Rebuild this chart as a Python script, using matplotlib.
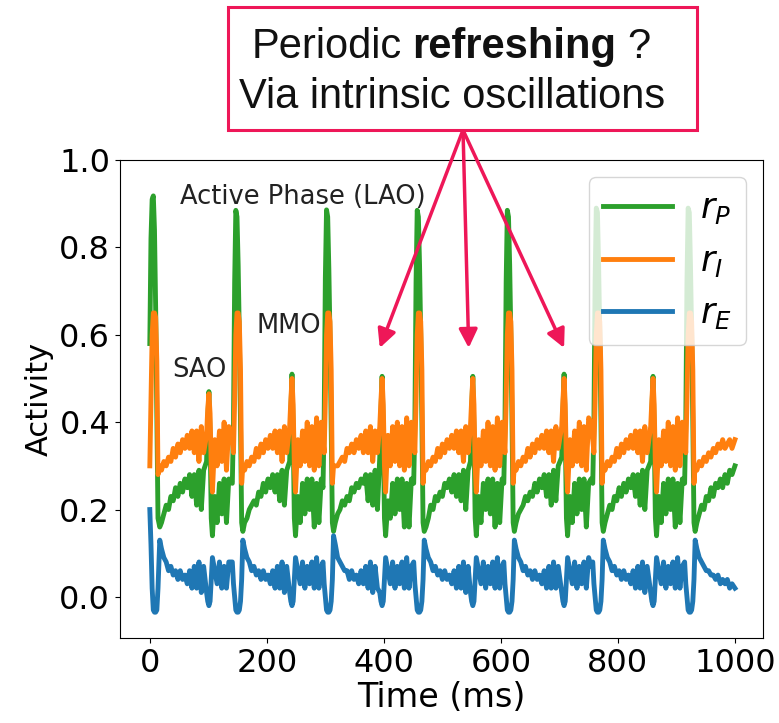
import matplotlib.pyplot as plt
from matplotlib.patches import Rectangle

# values (time in ms, activity)
# one line per cycle: LAO spike, recovery, small spike (SAO/MMO), pre-spike noise
time_ms = [
    0, 2, 4, 6, 8, 10, 12, 14, 17, 20, 24, 28, 32, 36, 40, 44, 48, 52, 56, 60, 64, 68, 72, 76, 80, 84, 88, 92,
    97, 99, 101, 103, 105, 107, 111, 115, 119, 123, 127, 131, 135,
    141, 143, 145, 147, 149, 151, 153, 155, 157, 159, 162, 166, 170, 174, 178, 182, 186, 190, 194, 198, 202, 206,
    210, 214, 218, 222, 226, 230, 234, 239, 241, 243, 245, 247, 249, 253, 257, 261, 265, 269, 273, 277, 281, 285, 289, 293,
    296, 298, 300, 302, 304, 306, 308, 310, 312, 314, 317, 321, 325, 329, 333, 337, 341, 345, 349, 353, 357, 361,
    365, 369, 373, 377, 381, 385, 389, 393, 395, 397, 399, 401, 403, 407, 411, 415, 419, 423, 427, 431, 435, 439, 443, 447,
    451, 453, 455, 457, 459, 461, 463, 465, 467, 469, 472, 476, 480, 484, 488, 492, 496, 500, 504, 508, 512, 516,
    520, 524, 528, 532, 536, 540, 544, 548, 550, 552, 554, 556, 558, 562, 566, 570, 574, 578, 582, 586, 590, 594, 598, 602,
    605, 607, 609, 611, 613, 615, 617, 619, 621, 623, 626, 630, 634, 638, 642, 646, 650, 654, 658, 662, 666, 670,
    674, 678, 682, 686, 690, 694, 698, 704, 706, 708, 710, 712, 714, 718, 722, 726, 730, 734, 738, 742, 746, 750, 754,
    757, 759, 761, 763, 765, 767, 769, 771, 773, 775, 778, 782, 786, 790, 794, 798, 802, 806, 810, 814, 818, 822,
    826, 830, 834, 838, 842, 846, 850, 856, 858, 860, 862, 864, 866, 870, 874, 878, 882, 886, 890, 894, 898, 902, 906, 910,
    914, 916, 918, 920, 922, 924, 926, 928, 930, 932, 935, 939, 943, 947, 951, 955, 959, 963, 967, 971, 975, 979,
    983, 987, 991, 995, 1000,
]

r_P = [
    0.58, 0.82, 0.91, 0.918, 0.84, 0.66, 0.42, 0.18, 0.16, 0.17, 0.19, 0.21, 0.20, 0.23, 0.22, 0.25, 0.23, 0.26, 0.24, 0.27, 0.25, 0.28, 0.23, 0.28, 0.21, 0.29, 0.20, 0.29,
    0.31, 0.40, 0.47, 0.37, 0.18, 0.14, 0.23, 0.17, 0.26, 0.19, 0.27, 0.17, 0.27,
    0.26, 0.40, 0.72, 0.885, 0.87, 0.76, 0.60, 0.40, 0.17, 0.15, 0.17, 0.18, 0.20, 0.21, 0.22, 0.21, 0.24, 0.23, 0.26, 0.24, 0.27, 0.25,
    0.28, 0.24, 0.28, 0.22, 0.29, 0.21, 0.29, 0.31, 0.42, 0.51, 0.38, 0.18, 0.14, 0.23, 0.17, 0.26, 0.19, 0.27, 0.20, 0.27, 0.16, 0.26, 0.17, 0.27,
    0.25, 0.41, 0.73, 0.886, 0.87, 0.75, 0.59, 0.39, 0.17, 0.15, 0.17, 0.19, 0.20, 0.22, 0.21, 0.23, 0.22, 0.25, 0.24, 0.26, 0.25, 0.27,
    0.26, 0.28, 0.22, 0.28, 0.21, 0.29, 0.20, 0.32, 0.42, 0.505, 0.38, 0.18, 0.14, 0.22, 0.18, 0.26, 0.19, 0.27, 0.20, 0.27, 0.16, 0.26, 0.16, 0.27,
    0.26, 0.40, 0.72, 0.885, 0.87, 0.76, 0.60, 0.40, 0.17, 0.15, 0.16, 0.18, 0.21, 0.20, 0.23, 0.22, 0.24, 0.23, 0.26, 0.25, 0.27, 0.24,
    0.28, 0.23, 0.28, 0.22, 0.29, 0.20, 0.29, 0.31, 0.42, 0.505, 0.38, 0.18, 0.14, 0.23, 0.17, 0.26, 0.20, 0.27, 0.19, 0.27, 0.16, 0.26, 0.17, 0.27,
    0.26, 0.40, 0.72, 0.885, 0.87, 0.76, 0.60, 0.40, 0.17, 0.15, 0.17, 0.19, 0.20, 0.21, 0.23, 0.22, 0.24, 0.23, 0.26, 0.24, 0.27, 0.25,
    0.28, 0.23, 0.28, 0.21, 0.29, 0.22, 0.30, 0.32, 0.42, 0.51, 0.38, 0.18, 0.14, 0.23, 0.17, 0.26, 0.19, 0.27, 0.20, 0.27, 0.16, 0.26, 0.27,
    0.26, 0.40, 0.72, 0.89, 0.88, 0.76, 0.60, 0.40, 0.17, 0.15, 0.17, 0.19, 0.21, 0.20, 0.23, 0.22, 0.25, 0.23, 0.26, 0.24, 0.27, 0.25,
    0.28, 0.23, 0.28, 0.21, 0.29, 0.20, 0.29, 0.31, 0.42, 0.505, 0.38, 0.18, 0.14, 0.23, 0.17, 0.26, 0.19, 0.27, 0.20, 0.27, 0.16, 0.26, 0.17, 0.27,
    0.26, 0.40, 0.72, 0.89, 0.88, 0.76, 0.60, 0.40, 0.17, 0.15, 0.17, 0.19, 0.21, 0.20, 0.23, 0.22, 0.25, 0.23, 0.26, 0.25, 0.27, 0.25,
    0.28, 0.26, 0.29, 0.28, 0.30,
]

r_I = [
    0.30, 0.45, 0.60, 0.65, 0.65, 0.64, 0.54, 0.28, 0.30, 0.29, 0.31, 0.30, 0.32, 0.31, 0.34, 0.32, 0.35, 0.33, 0.36, 0.34, 0.37, 0.34, 0.38, 0.33, 0.38, 0.31, 0.39, 0.33,
    0.37, 0.43, 0.465, 0.42, 0.30, 0.24, 0.36, 0.30, 0.38, 0.31, 0.40, 0.29, 0.39,
    0.36, 0.33, 0.45, 0.60, 0.65, 0.65, 0.63, 0.52, 0.26, 0.30, 0.29, 0.31, 0.30, 0.32, 0.31, 0.34, 0.32, 0.35, 0.33, 0.36, 0.34, 0.37,
    0.34, 0.38, 0.33, 0.38, 0.31, 0.39, 0.33, 0.39, 0.45, 0.50, 0.44, 0.30, 0.24, 0.36, 0.30, 0.38, 0.31, 0.40, 0.30, 0.39, 0.29, 0.41, 0.30, 0.40,
    0.36, 0.33, 0.45, 0.60, 0.65, 0.65, 0.63, 0.52, 0.26, 0.30, 0.30, 0.30, 0.31, 0.32, 0.31, 0.34, 0.33, 0.35, 0.33, 0.36, 0.34, 0.37,
    0.33, 0.38, 0.33, 0.39, 0.31, 0.38, 0.33, 0.39, 0.45, 0.50, 0.44, 0.30, 0.24, 0.37, 0.30, 0.39, 0.31, 0.40, 0.30, 0.39, 0.29, 0.41, 0.30, 0.40,
    0.36, 0.33, 0.45, 0.60, 0.65, 0.65, 0.63, 0.52, 0.26, 0.30, 0.29, 0.31, 0.30, 0.32, 0.31, 0.34, 0.32, 0.35, 0.33, 0.36, 0.34, 0.37,
    0.34, 0.38, 0.33, 0.38, 0.31, 0.39, 0.33, 0.39, 0.45, 0.50, 0.44, 0.30, 0.24, 0.36, 0.30, 0.38, 0.31, 0.40, 0.30, 0.39, 0.29, 0.41, 0.30, 0.40,
    0.36, 0.33, 0.45, 0.60, 0.65, 0.65, 0.63, 0.52, 0.26, 0.30, 0.29, 0.31, 0.30, 0.32, 0.31, 0.34, 0.32, 0.35, 0.33, 0.36, 0.34, 0.37,
    0.34, 0.38, 0.33, 0.38, 0.31, 0.39, 0.34, 0.39, 0.45, 0.50, 0.44, 0.30, 0.24, 0.36, 0.30, 0.38, 0.31, 0.40, 0.30, 0.39, 0.29, 0.41, 0.40,
    0.36, 0.33, 0.45, 0.60, 0.65, 0.65, 0.63, 0.52, 0.26, 0.30, 0.29, 0.31, 0.30, 0.32, 0.31, 0.34, 0.32, 0.35, 0.33, 0.36, 0.34, 0.37,
    0.34, 0.38, 0.33, 0.38, 0.31, 0.39, 0.33, 0.39, 0.45, 0.50, 0.44, 0.30, 0.24, 0.36, 0.30, 0.38, 0.31, 0.40, 0.30, 0.39, 0.29, 0.41, 0.30, 0.40,
    0.36, 0.33, 0.45, 0.60, 0.65, 0.65, 0.63, 0.52, 0.26, 0.30, 0.29, 0.31, 0.30, 0.32, 0.31, 0.33, 0.32, 0.34, 0.33, 0.35, 0.34, 0.36,
    0.34, 0.35, 0.36, 0.34, 0.36,
]

r_E = [
    0.20, 0.12, 0.02, -0.03, -0.035, -0.035, -0.03, 0.02, 0.13, 0.11, 0.09, 0.08, 0.06, 0.07, 0.05, 0.06, 0.04, 0.06, 0.04, 0.05, 0.03, 0.06, 0.02, 0.07, 0.02, 0.08, 0.01, 0.07,
    0.01, -0.01, -0.02, -0.01, 0.04, 0.09, 0.06, 0.03, 0.08, 0.02, 0.07, 0.02, 0.08,
    0.08, 0.03, 0.00, -0.03, -0.035, -0.035, -0.03, -0.01, 0.04, 0.13, 0.11, 0.09, 0.08, 0.06, 0.07, 0.05, 0.06, 0.04, 0.06, 0.04, 0.05, 0.03,
    0.06, 0.02, 0.07, 0.02, 0.08, 0.01, 0.07, 0.01, -0.01, -0.02, -0.01, 0.04, 0.09, 0.06, 0.03, 0.08, 0.02, 0.07, 0.03, 0.08, 0.02, 0.09, 0.02, 0.07,
    0.08, 0.03, 0.00, -0.03, -0.035, -0.035, -0.03, -0.01, 0.04, 0.14, 0.12, 0.09, 0.08, 0.07, 0.06, 0.06, 0.04, 0.06, 0.04, 0.05, 0.03, 0.06,
    0.03, 0.07, 0.02, 0.08, 0.01, 0.07, 0.02, 0.01, -0.01, -0.02, -0.01, 0.04, 0.09, 0.06, 0.03, 0.08, 0.02, 0.07, 0.03, 0.08, 0.02, 0.09, 0.02, 0.07,
    0.08, 0.03, 0.00, -0.03, -0.035, -0.035, -0.03, -0.01, 0.04, 0.13, 0.11, 0.09, 0.08, 0.06, 0.07, 0.05, 0.06, 0.04, 0.06, 0.04, 0.05, 0.03,
    0.06, 0.02, 0.07, 0.02, 0.08, 0.01, 0.07, 0.01, -0.01, -0.02, -0.01, 0.04, 0.09, 0.06, 0.03, 0.08, 0.02, 0.07, 0.03, 0.08, 0.02, 0.09, 0.02, 0.07,
    0.08, 0.03, 0.00, -0.03, -0.035, -0.035, -0.03, -0.01, 0.04, 0.13, 0.11, 0.09, 0.08, 0.06, 0.07, 0.05, 0.06, 0.04, 0.06, 0.04, 0.05, 0.03,
    0.06, 0.02, 0.07, 0.02, 0.08, 0.02, 0.07, 0.01, -0.01, -0.02, -0.01, 0.04, 0.09, 0.06, 0.03, 0.08, 0.02, 0.07, 0.03, 0.08, 0.02, 0.09, 0.07,
    0.08, 0.03, 0.00, -0.03, -0.035, -0.035, -0.03, -0.01, 0.04, 0.13, 0.11, 0.09, 0.08, 0.06, 0.07, 0.05, 0.06, 0.04, 0.06, 0.04, 0.05, 0.03,
    0.06, 0.02, 0.07, 0.02, 0.08, 0.01, 0.07, 0.01, -0.01, -0.02, -0.01, 0.04, 0.09, 0.06, 0.03, 0.08, 0.02, 0.07, 0.03, 0.08, 0.02, 0.09, 0.02, 0.07,
    0.08, 0.03, 0.00, -0.03, -0.035, -0.035, -0.03, -0.01, 0.04, 0.13, 0.11, 0.09, 0.08, 0.07, 0.06, 0.06, 0.05, 0.05, 0.04, 0.05, 0.03, 0.04,
    0.03, 0.04, 0.02, 0.03, 0.02,
]

# small oscillations the arrows point at
arrow_targets_ms = [393, 545, 708]

red = '#ee1758'

fig = plt.figure(figsize=(7.79, 7.23), dpi=100)
ax = fig.add_axes([0.154, 0.1176, 0.8255, 0.661])

ax.plot(time_ms, r_P, color='#2ca02c', lw=3.5, label='$r_P$')
ax.plot(time_ms, r_I, color='#ff7f0e', lw=3.5, label='$r_I$')
ax.plot(time_ms, r_E, color='#1f77b4', lw=3.5, label='$r_E$')

ax.set_xlim(-51, 1048)
ax.set_ylim(-0.094, 1.0)
ax.set_xticks([0, 200, 400, 600, 800, 1000])
ax.set_yticks([0.0, 0.2, 0.4, 0.6, 0.8, 1.0])
ax.tick_params(labelsize=23)
ax.set_xlabel('Time (ms)', fontsize=24, labelpad=2)
ax.set_ylabel('Activity', fontsize=22)
ax.legend(loc='upper right', fontsize=25)

ax.text(51, 0.915, 'Active Phase (LAO)', fontsize=18.5, va='center', color='#222222')
ax.text(39, 0.52, 'SAO', fontsize=18.5, va='center', color='#222222')
ax.text(183, 0.62, 'MMO', fontsize=18.5, va='center', color='#222222')

# question box above the plot
fig.add_artist(Rectangle((228 / 779, 1 - 130 / 723), (697 - 228) / 779, (130 - 7) / 723,
                         transform=fig.transFigure, facecolor='white', edgecolor=red, lw=2.2, zorder=3))

renderer = fig.canvas.get_renderer()
parts = [('Periodic', 'normal'), ('refreshing', 'bold'), ('?', 'normal')]
gap = 11 / 779
pieces = [fig.text(0, 1 - 58 / 723, s, fontsize=30, weight=w, family='Liberation Sans',
                   va='baseline', color='#111111', zorder=4) for s, w in parts]
widths = [p.get_window_extent(renderer).width / 779 for p in pieces]
x = 451 / 779 - (sum(widths) + gap * 2) / 2
for p, w in zip(pieces, widths):
    p.set_x(x)
    x += w + gap

fig.text(452 / 779, 1 - 108 / 723, 'Via intrinsic oscillations', fontsize=30, family='Liberation Sans',
         ha='center', va='baseline', color='#111111', zorder=4)

for tx in arrow_targets_ms:
    ax.annotate('', xy=(tx, 0.57), xycoords='data', xytext=(463 / 779, 1 - 130 / 723),
                textcoords='figure fraction', annotation_clip=False,
                arrowprops=dict(arrowstyle='-|>', color=red, lw=2.5, mutation_scale=28,
                                shrinkA=0, shrinkB=0))

fig.savefig('out.png', dpi=100)
